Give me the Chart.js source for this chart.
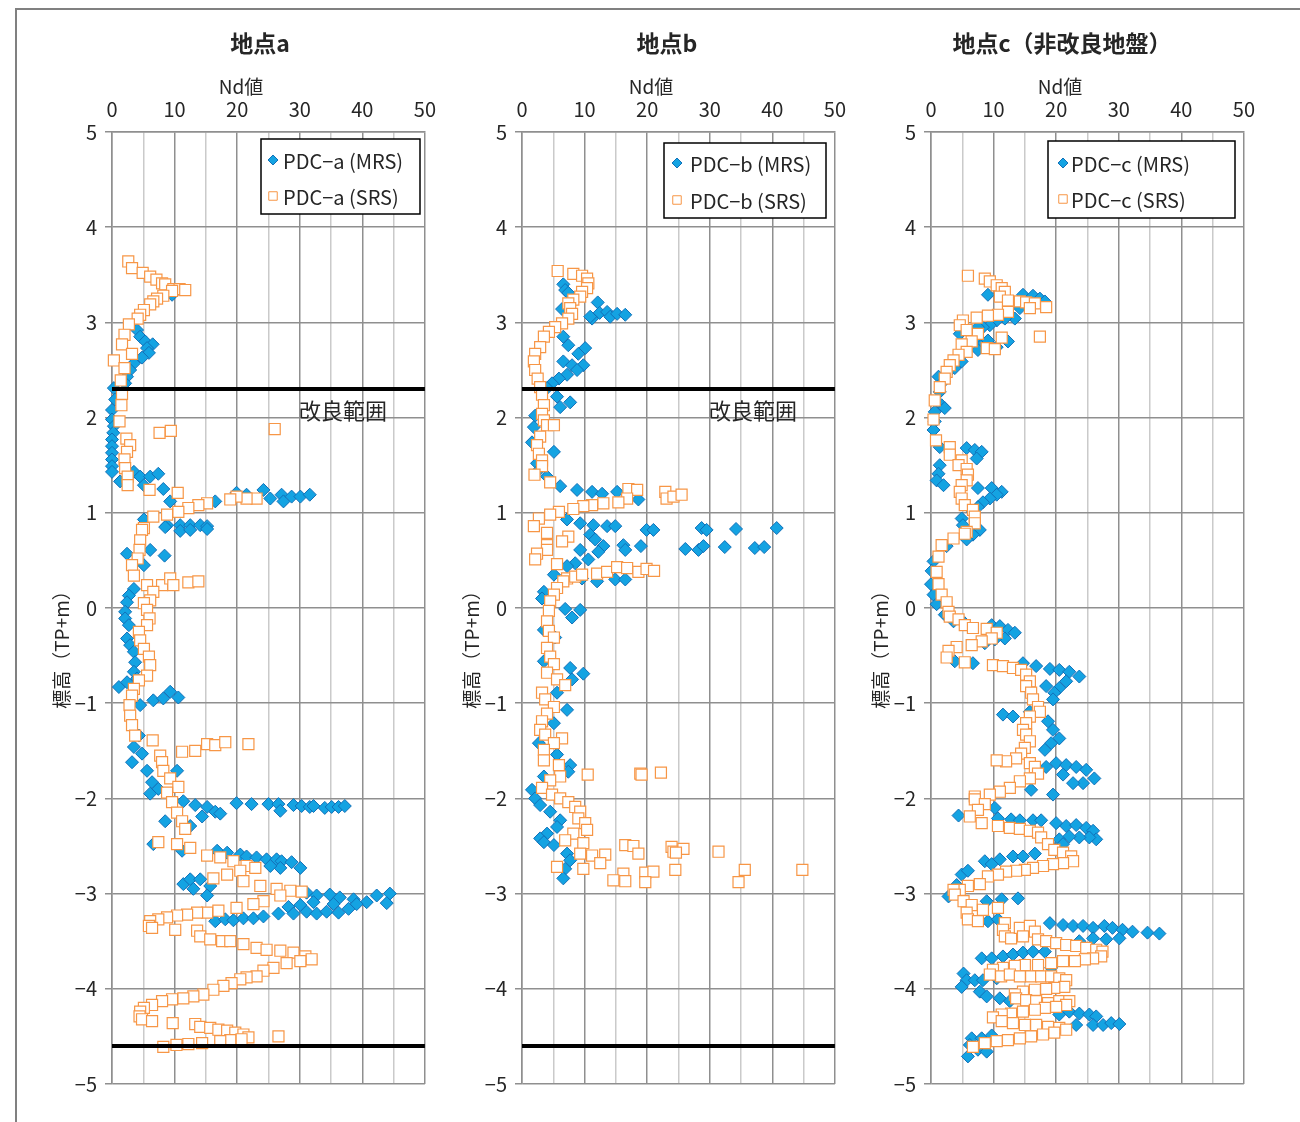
<!DOCTYPE html>
<html>
<head>
<meta charset="utf-8">
<script src="https://cdn.jsdelivr.net/npm/chart.js@4.4.1/dist/chart.umd.min.js"></script>
<style>
    body { margin: 0; background: #fff; width: 1300px; height: 1122px; overflow: hidden; position: relative; }
    #frame { position: absolute; left: 15px; top: 8px; width: 1300px; height: 1200px; border-top: 2px solid #808080; border-left: 2px solid #808080; }
    canvas { position: absolute; top: 0; }
</style>
</head>
<body>
<div id="frame"></div>
<canvas id="cA" width="427" height="1122" style="left:20px;width:427px;height:1122px"></canvas>
<canvas id="cB" width="427" height="1122" style="left:430px;width:427px;height:1122px"></canvas>
<canvas id="cC" width="427" height="1122" style="left:839px;width:427px;height:1122px"></canvas>
<script>
// axis ranges
const ndTicks = [0, 10, 20, 30, 40, 50];
const depthTicks = [5, 4, 3, 2, 1, 0, -1, -2, -3, -4, -5];
const kairyoTop = 2.3;
const kairyoBottom = -4.6;

// [標高, Nd値]
const mrsA = [
    [3.29,9.6],[2.92,4.0],[2.85,4.5],[2.80,5.3],[2.77,6.5],[2.73,5.6],[2.68,5.9],[2.63,4.8],[2.57,3.5],[2.50,2.9],
    [2.43,2.4],[2.36,2.1],[2.31,0.3],[2.19,0.5],[2.08,0],[1.98,0],[1.91,0.3],[1.84,0.2],[1.77,0],[1.70,0],
    [1.63,0],[1.56,0],[1.49,0],[1.43,0],[1.43,3.5],[1.38,4.5],[1.38,6.1],[1.41,7.4],[1.33,1.3],[1.29,5.1],
    [1.25,8.2],[1.12,9.3],[1.12,16.5],[1.21,19.9],[1.19,21.5],[1.24,24.2],[1.15,25.3],[1.19,27.1],[1.12,27.4],[1.17,28.7],
    [1.17,30.1],[1.19,31.6],[0.93,5.1],[0.87,8.8],[0.87,10.9],[0.87,12.5],[0.87,14.1],[0.86,15.2],[0.85,8.5],[0.81,10.9],
    [0.82,12.5],[0.83,15.2],[0.61,6.1],[0.55,8.4],[0.57,2.4],[0.45,5.1],[0.20,3.5],[0.13,2.7],[0.06,2.4],[-0.04,2.1],
    [-0.11,2.1],[-0.18,2.7],[-0.32,2.4],[-0.39,2.9],[-0.46,3.5],[-0.57,3.7],[-0.67,3.5],[-0.74,4.0],[-0.83,1.1],[-0.78,2.4],
    [-1.02,4.5],[-0.97,6.6],[-0.95,8.2],[-0.88,9.3],[-0.94,10.6],[-1.34,4.3],[-1.46,3.5],[-1.53,4.8],[-1.62,3.2],[-1.71,5.6],
    [-1.83,6.4],[-1.90,7.4],[-1.71,10.4],[-1.95,6.1],[-2.03,11.4],[-2.07,13.3],[-2.09,15.2],[-2.14,16.5],[-2.16,17.3],[-2.19,14.4],
    [-2.05,19.9],[-2.06,22.3],[-2.06,25.0],[-2.06,26.6],[-2.13,26.9],[-2.07,29.0],[-2.08,30.3],[-2.09,31.6],[-2.08,32.2],[-2.10,34.0],
    [-2.09,35.1],[-2.09,36.2],[-2.08,37.2],[-2.24,8.5],[-2.29,12.5],[-2.48,6.6],[-2.55,11.2],[-2.55,16.8],[-2.57,18.4],[-2.59,20.5],
    [-2.61,21.5],[-2.62,23.1],[-2.64,24.7],[-2.64,26.3],[-2.66,27.1],[-2.67,28.7],[-2.73,30.1],[-2.73,26.9],[-2.71,25.3],[-2.90,11.4],
    [-2.85,12.5],[-2.85,14.1],[-2.92,15.7],[-3.02,15.2],[-2.95,13.0],[-2.99,31.1],[-3.02,32.7],[-3.01,34.8],[-3.04,36.4],[-3.06,38.6],
    [-3.09,40.7],[-3.02,42.3],[-3.00,44.4],[-3.10,43.9],[-3.09,32.2],[-3.12,30.1],[-3.14,28.2],[-3.21,26.6],[-3.21,29.0],[-3.19,31.1],
    [-3.21,32.7],[-3.19,34.3],[-3.20,36.2],[-3.16,37.8],[-3.11,35.4],[-3.11,39.1],[-3.29,16.5],[-3.27,18.1],[-3.28,19.4],[-3.26,21.0],
    [-3.26,22.6],[-3.24,24.2]
];
const srsA = [
    [3.64,2.6],[3.57,3.2],[3.52,4.9],[3.48,6.1],[3.45,7.1],[3.41,8.0],[3.40,8.5],[3.35,9.8],[3.35,10.8],[3.34,11.7],
    [3.33,9.6],[3.28,8.2],[3.25,7.2],[3.22,6.6],[3.19,6.1],[3.13,5.1],[3.08,4.5],[3.04,4.1],[2.98,2.7],[2.87,2.0],
    [2.77,1.6],[2.67,3.2],[2.60,0.3],[2.52,2.0],[2.39,1.4],[2.25,1.6],[2.13,1.5],[1.96,1.2],[1.84,7.6],[1.86,9.4],
    [1.88,26.0],[1.78,2.3],[1.71,2.9],[1.64,2.4],[1.56,2.0],[1.47,2.1],[1.38,2.5],[1.29,2.5],[1.24,6.0],[1.21,10.5],
    [1.15,23.1],[1.15,21.5],[1.17,19.9],[1.14,18.9],[1.10,15.2],[1.08,13.8],[1.05,12.2],[1.01,10.6],[0.98,8.8],[0.96,6.6],
    [0.84,5.1],[0.82,4.8],[0.71,4.5],[0.61,4.4],[0.52,4.1],[0.45,3.2],[0.34,3.5],[0.24,5.6],[0.24,8.0],[0.31,9.3],
    [0.24,9.8],[0.27,12.2],[0.28,13.8],[0.17,6.6],[0.08,6.1],[0.05,5.1],[-0.02,5.6],[-0.11,6.0],[-0.18,5.6],[-0.25,4.3],
    [-0.34,4.5],[-0.43,5.1],[-0.51,5.9],[-0.60,6.1],[-0.71,5.6],[-0.76,4.3],[-0.85,3.5],[-0.92,3.2],[-1.02,2.8],[-1.13,2.9],
    [-1.23,3.2],[-1.34,3.7],[-1.39,6.5],[-1.51,11.2],[-1.50,13.3],[-1.43,15.2],[-1.44,16.5],[-1.41,18.1],[-1.43,21.8],[-1.55,7.7],
    [-1.62,8.0],[-1.71,8.2],[-1.79,9.3],[-1.88,10.6],[-1.94,8.8],[-2.04,9.6],[-2.15,10.4],[-2.24,11.2],[-2.32,11.7],[-2.46,7.4],
    [-2.48,10.4],[-2.52,12.5],[-2.60,15.2],[-2.62,17.3],[-2.66,19.4],[-2.71,21.5],[-2.73,22.9],[-2.76,20.5],[-2.80,18.4],[-2.84,16.2],
    [-2.87,21.0],[-2.92,23.7],[-2.95,26.3],[-2.97,28.5],[-2.98,30.3],[-3.02,26.9],[-3.08,24.2],[-3.11,22.6],[-3.15,19.9],[-3.18,17.0],
    [-3.20,15.2],[-3.20,13.6],[-3.22,12.0],[-3.23,10.4],[-3.25,8.8],[-3.27,7.4],[-3.29,6.1],[-3.34,5.9],[-3.36,6.4],[-3.38,10.1],
    [-3.39,13.6],[-3.45,14.1],[-3.48,15.7],[-3.50,17.6],[-3.50,18.9],[-3.53,21.0],[-3.57,23.1],[-3.59,24.7],[-3.60,26.9],[-3.62,29.0],
    [-3.66,30.9],[-3.69,31.9],[-3.71,30.1],[-3.73,27.9],[-3.78,25.8],[-3.81,24.2],[-3.87,23.1],[-3.88,21.5],[-3.90,20.5],[-3.94,19.1],
    [-3.97,17.8],[-4.01,16.2],[-4.06,14.6],[-4.08,13.0],[-4.10,11.4],[-4.11,9.6],[-4.13,8.0],[-4.17,6.4],[-4.20,5.1],[-4.24,4.5],
    [-4.29,4.4],[-4.32,4.8],[-4.34,6.4],[-4.36,9.7],[-4.37,13.3],[-4.40,14.1],[-4.41,15.7],[-4.43,17.0],[-4.44,18.4],[-4.46,19.7],
    [-4.48,21.0],[-4.51,21.8],[-4.50,26.6],[-4.53,20.7],[-4.54,18.9],[-4.55,17.3],[-4.57,14.4],[-4.58,12.2],[-4.59,10.3],[-4.61,8.2]
];

const mrsB = [
    [3.40,6.6],[3.34,6.9],[3.31,7.4],[3.14,6.4],[3.21,12.1],[3.10,12.4],[3.04,11.2],[3.11,13.6],[3.06,14.1],[3.09,15.2],
    [3.08,16.5],[3.06,10.9],[2.85,6.6],[2.76,7.4],[2.73,10.1],[2.67,9.0],[2.59,6.6],[2.55,8.0],[2.55,9.8],[2.50,8.8],
    [2.45,7.2],[2.41,5.9],[2.36,4.8],[2.31,4.0],[2.22,5.6],[2.16,7.7],[2.11,6.1],[2.02,2.1],[1.90,1.9],[1.74,1.6],
    [1.64,5.1],[1.52,2.4],[1.43,2.4],[1.38,4.0],[1.28,6.1],[1.24,8.8],[1.22,11.2],[1.20,12.8],[1.22,15.2],[1.14,18.6],
    [0.93,7.2],[0.89,9.3],[0.87,11.4],[0.86,13.6],[0.86,14.9],[0.82,19.9],[0.82,21.0],[0.84,28.7],[0.82,29.5],[0.83,34.2],
    [0.84,40.7],[0.77,10.9],[0.72,11.7],[0.65,13.0],[0.66,16.2],[0.61,16.5],[0.65,19.0],[0.62,26.1],[0.61,28.2],[0.65,29.0],
    [0.64,32.4],[0.63,37.2],[0.64,38.7],[0.61,9.3],[0.59,12.2],[0.51,10.6],[0.47,8.5],[0.44,7.2],[0.35,5.1],[0.31,9.6],
    [0.28,12.0],[0.30,14.9],[0.30,16.5],[0.17,3.5],[0.10,3.2],[-0.01,6.9],[-0.02,9.3],[-0.10,8.0],[-0.23,3.5],[-0.31,5.3],
    [-0.56,3.5],[-0.63,7.7],[-0.69,9.8],[-0.75,8.0],[-0.89,5.6],[-1.07,7.2],[-1.21,5.1],[-1.42,2.7],[-1.54,5.6],[-1.65,7.7],
    [-1.72,7.4],[-1.77,3.5],[-1.91,1.6],[-2.00,2.1],[-2.07,2.9],[-2.14,4.5],[-2.23,6.1],[-2.30,5.6],[-2.37,4.0],[-2.42,2.9],
    [-2.46,3.5],[-2.49,5.1],[-2.58,7.2],[-2.65,7.7],[-2.74,6.9],[-2.84,6.6]
];
const srsB = [
    [3.54,5.7],[3.51,8.2],[3.49,9.6],[3.46,10.4],[3.41,10.6],[3.36,10.4],[3.32,9.6],[3.27,9.3],[3.24,8.2],[3.20,7.4],
    [3.15,7.7],[3.09,8.0],[3.04,7.4],[2.99,6.4],[2.95,5.3],[2.90,4.3],[2.85,3.5],[2.74,2.9],[2.67,2.1],[2.59,1.9],
    [2.50,2.1],[2.41,2.5],[2.32,2.9],[2.24,3.2],[2.13,3.5],[2.04,3.2],[1.97,3.5],[1.92,4.0],[1.92,5.1],[1.80,2.9],
    [1.71,2.4],[1.62,2.7],[1.55,3.2],[1.49,3.2],[1.40,2.0],[1.32,4.5],[1.25,17.0],[1.24,18.4],[1.22,22.9],[1.15,23.1],
    [1.17,24.2],[1.19,25.5],[1.15,16.8],[1.11,15.4],[1.10,13.0],[1.08,11.2],[1.07,9.8],[1.04,8.2],[1.01,5.9],[0.98,4.5],
    [0.94,2.7],[0.86,1.9],[0.79,4.0],[0.75,7.4],[0.70,6.4],[0.66,4.0],[0.61,4.0],[0.57,2.4],[0.51,2.1],[0.46,5.6],
    [0.31,7.2],[0.33,8.5],[0.35,9.6],[0.36,12.0],[0.38,13.6],[0.43,15.2],[0.42,16.8],[0.38,18.6],[0.41,19.9],[0.39,21.1],
    [0.28,6.6],[0.21,5.6],[0.14,5.1],[0.07,4.5],[-0.03,4.3],[-0.14,4.0],[-0.24,4.3],[-0.31,5.1],[-0.42,4.0],[-0.51,4.5],
    [-0.59,5.1],[-0.68,4.0],[-0.75,5.6],[-0.81,6.9],[-0.89,3.2],[-0.96,3.7],[-1.04,5.1],[-1.11,4.0],[-1.19,3.2],[-1.28,2.9],
    [-1.33,3.7],[-1.37,6.4],[-1.42,5.1],[-1.49,3.5],[-1.60,3.5],[-1.65,5.9],[-1.77,6.1],[-1.81,4.5],[-1.75,10.5],[-1.74,18.9],
    [-1.75,19.1],[-1.73,22.2],[-1.89,3.2],[-1.96,4.8],[-2.00,6.1],[-2.04,7.4],[-2.09,8.5],[-2.14,9.3],[-2.21,9.0],[-2.26,10.1],
    [-2.33,10.4],[-2.37,8.2],[-2.44,6.9],[-2.47,9.8],[-2.49,16.5],[-2.50,17.8],[-2.58,18.6],[-2.51,23.9],[-2.56,24.2],[-2.53,25.8],
    [-2.57,24.6],[-2.56,31.4],[-2.58,9.3],[-2.60,11.2],[-2.59,13.3],[-2.68,12.5],[-2.74,9.8],[-2.72,5.6],[-2.79,16.2],[-2.86,14.6],
    [-2.87,16.5],[-2.78,19.7],[-2.77,21.0],[-2.88,19.7],[-2.75,24.5],[-2.75,35.6],[-2.88,34.6],[-2.75,44.8]
];

const mrsC = [
    [3.29,9.1],[3.29,14.7],[3.28,16.3],[3.25,17.4],[3.22,18.2],[3.15,14.2],[3.04,13.4],[3.04,11.8],[3.02,10.5],[2.97,9.4],
    [2.95,8.3],[2.95,7.5],[2.92,5.7],[2.88,4.6],[2.81,7.3],[2.76,8.1],[2.81,9.1],[2.80,12.3],[2.74,10.5],[2.71,7.5],
    [2.59,4.9],[2.52,3.8],[2.46,2.5],[2.43,1.2],[2.38,2.0],[2.27,1.4],[2.13,1.7],[2.10,2.2],[2.06,0.6],[1.96,0.6],
    [1.87,0.4],[1.69,1.4],[1.68,5.7],[1.66,7.0],[1.64,8.1],[1.57,7.3],[1.50,1.4],[1.41,1.2],[1.34,0.9],[1.29,2.0],
    [1.26,7.5],[1.26,9.7],[1.22,11.3],[1.19,10.5],[1.15,9.4],[1.11,8.3],[1.06,7.5],[1.01,6.7],[0.94,4.9],[0.87,5.1],
    [0.82,7.8],[0.77,6.7],[0.72,5.7],[0.65,2.5],[0.49,0.4],[0.39,0.1],[0.25,0],[0.14,0.4],[0.04,0.9],[-0.07,2.2],
    [-0.14,3.6],[-0.16,5.4],[-0.18,9.7],[-0.19,11.0],[-0.23,12.3],[-0.26,13.4],[-0.32,11.8],[-0.33,10.2],[-0.37,8.6],[-0.56,3.8],
    [-0.58,6.7],[-0.58,14.7],[-0.61,16.8],[-0.64,19.0],[-0.65,20.5],[-0.67,22.1],[-0.72,23.7],[-0.77,21.6],[-0.84,20.5],[-0.89,19.7],
    [-0.96,19.5],[-0.82,18.4],[-1.12,11.5],[-1.14,13.1],[-1.09,15.8],[-1.19,18.7],[-1.28,19.5],[-1.37,20.5],[-1.42,19.2],[-1.49,18.2],
    [-1.63,20.0],[-1.65,21.6],[-1.67,23.2],[-1.70,24.8],[-1.79,26.1],[-1.84,24.3],[-1.84,22.7],[-1.75,21.1],[-1.67,18.4],[-1.91,16.0],
    [-1.96,19.5],[-2.10,10.2],[-2.18,4.4],[-2.21,10.7],[-2.22,12.8],[-2.23,14.2],[-2.23,16.3],[-2.23,17.6],[-2.26,20.0],[-2.29,21.6],
    [-2.28,23.2],[-2.31,24.8],[-2.34,25.9],[-2.43,26.4],[-2.41,25.3],[-2.41,23.7],[-2.40,22.1],[-2.43,20.5],[-2.48,21.1],[-2.52,19.5],
    [-2.66,8.6],[-2.69,9.7],[-2.64,11.0],[-2.61,13.1],[-2.61,14.7],[-2.58,16.6],[-2.80,4.9],[-2.76,5.9],[-2.91,4.1],[-3.03,2.8],
    [-3.08,8.9],[-3.06,11.3],[-3.05,13.9],[-3.29,9.1],[-3.27,10.7],[-3.31,19.0],[-3.33,21.1],[-3.34,22.7],[-3.34,24.3],[-3.36,25.9],
    [-3.34,27.7],[-3.36,29.0],[-3.38,30.6],[-3.40,32.2],[-3.41,34.6],[-3.42,36.5],[-3.47,25.9],[-3.48,28.0],[-3.47,30.1],[-3.50,23.7],
    [-3.68,8.1],[-3.68,9.7],[-3.66,11.5],[-3.64,13.1],[-3.62,14.7],[-3.61,16.3],[-3.61,18.2],[-3.84,5.2],[-3.91,5.7],[-3.98,4.9],
    [-3.91,7.0],[-3.91,8.3],[-3.89,10.5],[-4.03,7.8],[-4.08,8.9],[-4.10,11.0],[-4.13,12.6],[-3.78,19.2],[-4.27,20.5],[-4.24,22.1],
    [-4.26,23.7],[-4.27,25.3],[-4.29,26.4],[-4.38,25.9],[-4.38,27.5],[-4.36,28.8],[-4.37,30.1],[-4.38,23.2],[-4.52,6.5],[-4.52,8.1],
    [-4.49,9.7],[-4.59,6.2],[-4.64,7.5],[-4.66,8.9],[-4.71,5.9]
];
const srsC = [
    [3.49,5.9],[3.46,8.6],[3.43,9.4],[3.39,10.5],[3.36,11.3],[3.32,11.8],[3.27,11.0],[3.23,12.3],[3.22,14.2],[3.21,15.2],
    [3.20,16.6],[3.16,18.4],[3.15,15.8],[3.11,12.3],[3.08,10.7],[3.07,9.1],[3.05,7.3],[3.02,5.1],[2.97,4.6],[2.92,5.7],
    [2.88,7.5],[2.84,11.3],[2.85,17.4],[2.80,6.5],[2.77,4.9],[2.73,8.9],[2.72,10.2],[2.69,5.7],[2.66,4.4],[2.60,3.6],
    [2.55,3.0],[2.48,2.5],[2.41,2.2],[2.32,1.4],[2.18,0.6],[1.98,0.4],[1.76,0.8],[1.69,3.0],[1.61,3.0],[1.55,4.9],
    [1.50,4.4],[1.46,5.7],[1.40,5.9],[1.34,5.7],[1.29,4.9],[1.22,4.6],[1.15,4.9],[1.08,5.4],[1.03,6.7],[0.96,7.0],
    [0.89,7.0],[0.80,5.7],[0.78,5.4],[0.73,3.6],[0.66,1.7],[0.54,1.2],[0.38,0.9],[0.25,1.2],[0.14,1.7],[0.06,2.5],
    [-0.04,2.8],[-0.09,3.0],[-0.12,4.4],[-0.18,5.4],[-0.21,6.7],[-0.22,8.9],[-0.26,10.5],[-0.32,9.7],[-0.35,8.1],[-0.39,6.5],
    [-0.41,4.1],[-0.45,2.8],[-0.52,2.5],[-0.57,5.4],[-0.60,9.9],[-0.61,11.5],[-0.63,13.1],[-0.65,14.4],[-0.70,15.2],[-0.77,15.8],
    [-0.82,15.2],[-0.89,16.0],[-0.96,16.3],[-1.04,17.1],[-1.09,17.4],[-1.14,15.8],[-1.21,15.2],[-1.28,14.7],[-1.33,15.2],[-1.40,15.8],
    [-1.47,15.0],[-1.53,14.4],[-1.58,13.6],[-1.61,12.0],[-1.60,10.5],[-1.63,15.8],[-1.67,16.6],[-1.74,17.1],[-1.79,15.8],[-1.82,14.2],
    [-1.89,12.6],[-1.93,11.0],[-1.96,9.4],[-1.98,7.0],[-2.01,7.0],[-2.06,8.6],[-2.12,7.5],[-2.19,6.2],[-2.26,8.1],[-2.29,10.7],
    [-2.31,12.6],[-2.32,14.2],[-2.34,15.8],[-2.36,17.1],[-2.41,17.6],[-2.48,18.7],[-2.54,19.7],[-2.57,21.1],[-2.61,22.4],[-2.66,22.7],
    [-2.68,21.1],[-2.69,19.5],[-2.71,17.9],[-2.73,16.3],[-2.75,15.0],[-2.76,13.6],[-2.77,12.0],[-2.80,10.7],[-2.82,9.1],[-2.90,7.8],
    [-2.92,5.9],[-2.96,4.6],[-2.96,3.6],[-3.01,3.8],[-3.08,5.2],[-3.12,6.5],[-3.17,8.3],[-3.15,10.7],[-3.20,5.7],[-3.27,5.9],
    [-3.29,7.5],[-3.31,11.8],[-3.38,11.5],[-3.45,11.8],[-3.47,12.8],[-3.36,14.2],[-3.34,15.8],[-3.40,16.6],[-3.45,14.7],[-3.48,17.1],
    [-3.50,18.4],[-3.52,20.0],[-3.54,21.6],[-3.55,23.2],[-3.57,24.8],[-3.59,26.4],[-3.61,27.4],[-3.66,27.2],[-3.68,25.9],[-3.69,24.6],
    [-3.71,23.0],[-3.71,21.1],[-3.73,19.2],[-3.75,17.1],[-3.75,15.0],[-3.76,13.4],[-3.78,11.5],[-3.80,9.9],[-3.85,9.4],[-3.87,11.2],
    [-3.85,12.6],[-3.87,14.2],[-3.87,16.0],[-3.87,17.6],[-3.87,19.2],[-3.89,20.5],[-3.91,21.6],[-3.98,21.3],[-3.99,19.7],[-4.00,18.4],
    [-4.01,16.6],[-4.03,14.7],[-4.06,13.4],[-4.10,13.6],[-4.12,15.2],[-4.13,16.8],[-4.15,18.7],[-4.13,20.5],[-4.13,22.1],[-4.17,21.6],
    [-4.19,20.0],[-4.20,18.2],[-4.22,16.6],[-4.24,14.7],[-4.26,12.8],[-4.27,11.3],[-4.30,9.9],[-4.34,11.3],[-4.36,13.1],[-4.38,15.0],
    [-4.38,16.8],[-4.40,18.7],[-4.41,20.5],[-4.43,21.6],[-4.46,19.7],[-4.48,17.9],[-4.50,16.0],[-4.52,14.2],[-4.54,12.3],[-4.55,10.5],
    [-4.57,8.6],[-4.61,6.7]
];

const fontJP = "'Noto Sans CJK JP', 'Noto Sans', sans-serif";
const textColor = '#262626';

// titles, legend and labels drawn on top of each panel
const panelText = {
    id: 'panelText',
    afterDatasetsDraw(chart, args, opts) {
        const ctx = chart.ctx;
        const area = chart.chartArea;
        ctx.save();
        ctx.fillStyle = textColor;
        ctx.textBaseline = 'middle';
        ctx.textAlign = 'center';
        ctx.font = 'bold 23px ' + fontJP;
        ctx.fillText(opts.title, opts.titleX, 43);
        ctx.font = '19px ' + fontJP;
        ctx.fillText('Nd値', area.left + 129, 87);

        ctx.save();
        ctx.translate(area.left - 50, 645);
        ctx.rotate(-Math.PI / 2);
        ctx.fillText('標高（TP+m）', 0, 0);
        ctx.restore();

        if (opts.kairyo) {
            ctx.font = '22px ' + fontJP;
            ctx.fillText('改良範囲', chart.scales.x.getPixelForValue(36.9), chart.scales.y.getPixelForValue(2.07));
        }

        // legend box
        const lg = opts.legend;
        const bx = area.left + lg.x, by = area.top + lg.y;
        ctx.fillStyle = '#fff';
        ctx.fillRect(bx, by, lg.w, lg.h);
        ctx.strokeStyle = '#000';
        ctx.lineWidth = 1.5;
        ctx.strokeRect(bx, by, lg.w, lg.h);
        const ds = chart.data.datasets;
        [0, 1].forEach(i => {
            const y = by + (i === 0 ? lg.r1 : lg.r2);
            ctx.fillStyle = ds[i].backgroundColor;
            ctx.strokeStyle = ds[i].borderColor;
            ctx.lineWidth = 1;
            Chart.helpers.drawPoint(ctx, {
                pointStyle: ds[i].pointStyle,
                radius: i === 0 ? 5 : 6,
                borderWidth: 1
            }, bx + lg.mx, y);
            ctx.fillStyle = textColor;
            ctx.textAlign = 'left';
            ctx.font = '20px ' + fontJP;
            ctx.fillText(ds[i].label, bx + lg.tx, y + 1);
        });
        ctx.restore();
    }
};

function makePanel(canvasId, title, titleX, mrs, srs, names, kairyo, legend) {
    const datasets = [
        {
            label: names[0],
            data: mrs.map(p => ({ x: p[1], y: p[0] })),
            pointStyle: 'rectRot',
            pointRadius: 6.5,
            backgroundColor: '#14a3e2',
            borderColor: '#1270b8',
            borderWidth: 1,
            order: 2,
            clip: false
        },
        {
            label: names[1],
            data: srs.map(p => ({ x: p[1], y: p[0] })),
            pointStyle: 'rect',
            pointRadius: 7.8,
            backgroundColor: '#ffffff',
            borderColor: '#f79646',
            borderWidth: 1.2,
            order: 1,
            clip: false
        }
    ];
    if (kairyo) {
        [kairyoTop, kairyoBottom].forEach(v => {
            datasets.push({
                label: 'line',
                data: [{ x: ndTicks[0], y: v }, { x: ndTicks[ndTicks.length - 1], y: v }],
                showLine: true,
                borderColor: '#000',
                borderWidth: 4,
                pointRadius: 0,
                order: 0,
                clip: false
            });
        });
    }

    new Chart(document.getElementById(canvasId), {
        type: 'scatter',
        data: { datasets: datasets },
        options: {
            responsive: false,
            animation: false,
            events: [],
            layout: { padding: { left: 0, right: 15, top: 0, bottom: 38 } },
            plugins: {
                legend: { display: false },
                tooltip: { enabled: false },
                panelText: { title: title, titleX: titleX, kairyo: kairyo, legend: legend }
            },
            scales: {
                x: {
                    type: 'linear',
                    position: 'top',
                    min: ndTicks[0],
                    max: ndTicks[ndTicks.length - 1],
                    afterFit: scale => { scale.height = 132; },
                    ticks: {
                        stepSize: 5,
                        autoSkip: false,
                        maxRotation: 0,
                        padding: 11,
                        color: textColor,
                        font: { family: fontJP, size: 20 },
                        callback: v => ndTicks.includes(v) ? String(v) : ''
                    },
                    grid: {
                        drawTicks: false,
                        lineWidth: 1.5,
                        color: c => (c.tick && c.tick.value % 10 === 0) ? '#8f8f8f' : '#cacaca'
                    },
                    border: { color: '#8f8f8f', width: 1.5 }
                },
                y: {
                    type: 'linear',
                    min: depthTicks[depthTicks.length - 1],
                    max: depthTicks[0],
                    afterFit: scale => { scale.width = 92; },
                    afterBuildTicks: scale => { scale.ticks = depthTicks.map(v => ({ value: v })); },
                    ticks: {
                        padding: 8,
                        color: textColor,
                        font: { family: fontJP, size: 20 },
                        callback: v => v < 0 ? '−' + Math.abs(v) : String(v)
                    },
                    grid: { color: '#8f8f8f', lineWidth: 1.5, tickLength: 7 },
                    border: { color: '#8f8f8f', width: 1.5 }
                }
            }
        },
        plugins: [panelText]
    });
}

makePanel('cA', '地点a', 240, mrsA, srsA, ['PDC−a (MRS)', 'PDC−a (SRS)'], true,
    { x: 149, y: 7, w: 159, h: 75, r1: 21, r2: 57, mx: 12, tx: 22 });
makePanel('cB', '地点b', 237, mrsB, srsB, ['PDC−b (MRS)', 'PDC−b (SRS)'], true,
    { x: 142, y: 11, w: 162, h: 75, r1: 20, r2: 57, mx: 13, tx: 26 });
makePanel('cC', '地点c（非改良地盤）', 223, mrsC, srsC, ['PDC−c (MRS)', 'PDC−c (SRS)'], false,
    { x: 117, y: 9, w: 187, h: 77, r1: 22, r2: 58, mx: 15, tx: 23 });
</script>
</body>
</html>
